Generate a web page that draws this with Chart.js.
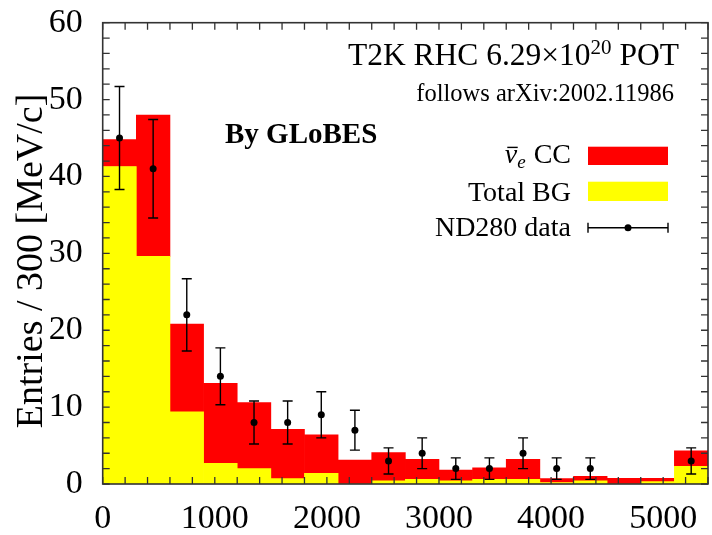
<!DOCTYPE html>
<html>
<head>
<meta charset="utf-8">
<script src="https://cdn.jsdelivr.net/npm/chart.js@4.4.0/dist/chart.umd.min.js"></script>
<style>
  html, body { margin: 0; padding: 0; background: #fff; }
</style>
</head>
<body>
<canvas id="myChart" width="712" height="535"></canvas>
<script>
// reconstructed momentum, 300 MeV/c bins
const binCenters = [150, 450, 750, 1050, 1350, 1650, 1950, 2250, 2550, 2850, 3150, 3450, 3750, 4050, 4350, 4650, 4950, 5250];
const totalBG    = [41.3, 29.6, 9.4, 2.7, 2.0, 0.7, 1.4, 0.0, 0.4, 0.6, 0.4, 0.6, 0.6, 0.2, 0.4, 0.0, 0.3, 2.3];
const nuebarCC   = [3.5, 18.4, 11.4, 10.4, 8.6, 6.4, 5.0, 3.1, 3.7, 2.6, 1.4, 1.5, 2.6, 0.5, 0.6, 0.75, 0.45, 2.0];
const nd280      = [45, 41, 22, 14, 8, 8, 9, 7, 3, 4, 2, 2, 4, 2, 2, null, null, 3];
const nd280Err   = [6.7, 6.4, 4.7, 3.7, 2.8, 2.8, 3.0, 2.6, 1.7, 2.0, 1.4, 1.4, 2.0, 1.4, 1.4, 0, 0, 1.7];

const xTickValues = [0, 1000, 2000, 3000, 4000, 5000];
const yTickValues = [0, 10, 20, 30, 40, 50, 60];
const legendLabels = ['CC', 'Total BG', 'ND280 data'];
const RED = '#ff0000', YELLOW = '#ffff00';
const SERIF = '"Liberation Serif", "Times New Roman", serif';

Chart.defaults.font.family = SERIF;
Chart.defaults.color = '#000';

const toXY = (vals) => binCenters.map((c, i) => ({ x: c, y: vals[i] }));

// frame with inward ticks on all four sides, plus error bars
const framePlugin = {
    id: 'frame',
    afterDatasetsDraw(chart) {
        const { ctx, chartArea: a, scales: { x, y } } = chart;
        ctx.save();

        // error bars on the data points
        ctx.strokeStyle = '#000';
        ctx.lineWidth = 1.4;
        binCenters.forEach((c, i) => {
            if (nd280[i] === null) return;
            const px = x.getPixelForValue(c);
            const top = y.getPixelForValue(nd280[i] + nd280Err[i]);
            const bot = y.getPixelForValue(nd280[i] - nd280Err[i]);
            ctx.beginPath();
            ctx.moveTo(px, top); ctx.lineTo(px, bot);
            ctx.moveTo(px - 5, top); ctx.lineTo(px + 5, top);
            ctx.moveTo(px - 5, bot); ctx.lineTo(px + 5, bot);
            ctx.stroke();
        });

        const tl = 7;
        ctx.strokeStyle = '#333';
        ctx.lineWidth = 1.3;
        ctx.beginPath();
        for (let v = x.min; v <= x.max + 1e-6; v += 200) {
            const px = x.getPixelForValue(v);
            ctx.moveTo(px, a.bottom); ctx.lineTo(px, a.bottom - tl);
            ctx.moveTo(px, a.top); ctx.lineTo(px, a.top + tl);
        }
        for (let v = y.min; v <= y.max + 1e-6; v += 2) {
            const py = y.getPixelForValue(v);
            ctx.moveTo(a.left, py); ctx.lineTo(a.left + tl, py);
            ctx.moveTo(a.right, py); ctx.lineTo(a.right - tl, py);
        }
        ctx.stroke();

        ctx.lineWidth = 1.6;
        ctx.strokeRect(a.left, a.top, a.right - a.left, a.bottom - a.top);
        ctx.restore();
    },
    afterDraw(chart) {
        const { ctx } = chart;
        ctx.save();
        ctx.fillStyle = '#000';
        ctx.textBaseline = 'alphabetic';

        // header line with superscript
        const parts = [
            { t: 'T2K RHC 6.29\u00d710', f: '31.5px ' + SERIF, dy: 0 },
            { t: '20', f: '21px ' + SERIF, dy: -11 },
            { t: ' POT', f: '31.5px ' + SERIF, dy: 0 }
        ];
        let w = 0;
        parts.forEach(p => { ctx.font = p.f; p.w = ctx.measureText(p.t).width; w += p.w; });
        let cx = 679 - w;
        ctx.textAlign = 'left';
        parts.forEach(p => { ctx.font = p.f; ctx.fillText(p.t, cx, 65 + p.dy); cx += p.w; });

        ctx.font = '24.5px ' + SERIF;
        ctx.textAlign = 'right';
        ctx.fillText('follows arXiv:2002.11986', 674, 100.7);

        ctx.font = 'bold 29px ' + SERIF;
        ctx.textAlign = 'left';
        ctx.fillText('By GLoBES', 225, 143);

        // legend
        const textRight = 571, boxL = 588, boxR = 668;
        const rows = [162.7, 200.5, 236];

        // first row: nu-bar_e CC
        ctx.font = 'italic 28px ' + SERIF;
        const wNu = ctx.measureText('\u03bd').width;
        ctx.font = 'italic 19px ' + SERIF;
        const wE = ctx.measureText('e').width;
        ctx.font = '28px ' + SERIF;
        const wCC = ctx.measureText(' ' + legendLabels[0]).width;
        let lx = textRight - (wNu + wE + 1 + wCC);
        ctx.textAlign = 'left';
        ctx.font = 'italic 28px ' + SERIF;
        ctx.fillText('\u03bd', lx, rows[0]);
        ctx.fillRect(lx + 2.5, rows[0] - 16, wNu - 2, 1.4);
        ctx.font = 'italic 19px ' + SERIF;
        ctx.fillText('e', lx + wNu, rows[0] + 5.5);
        ctx.font = '28px ' + SERIF;
        ctx.fillText(' ' + legendLabels[0], lx + wNu + wE + 1, rows[0]);

        ctx.textAlign = 'right';
        ctx.fillText(legendLabels[1], textRight, rows[1]);
        ctx.fillText(legendLabels[2], textRight, rows[2]);

        ctx.fillStyle = RED;
        ctx.fillRect(boxL, 146.7, boxR - boxL, 18.3);
        ctx.fillStyle = YELLOW;
        ctx.fillRect(boxL, 181.7, boxR - boxL, 19.3);

        const ly = 227.7;
        ctx.strokeStyle = '#000';
        ctx.lineWidth = 1.4;
        ctx.beginPath();
        ctx.moveTo(boxL, ly); ctx.lineTo(boxR, ly);
        ctx.moveTo(boxL, ly - 5); ctx.lineTo(boxL, ly + 5);
        ctx.moveTo(boxR, ly - 5); ctx.lineTo(boxR, ly + 5);
        ctx.stroke();
        ctx.fillStyle = '#000';
        ctx.beginPath();
        ctx.arc((boxL + boxR) / 2, ly, 3.5, 0, Math.PI * 2);
        ctx.fill();

        ctx.restore();
    }
};

const myChart = document.getElementById('myChart');

const chart = new Chart(myChart, {
    type: 'bar',
    data: {
        datasets: [{
            label: 'Total BG',
            data: toXY(totalBG),
            backgroundColor: YELLOW,
            borderWidth: 0,
            stack: 'mc',
            barPercentage: 1,
            categoryPercentage: 1,
            order: 2
        }, {
            label: '\u03bd\u0304e CC',
            data: toXY(nuebarCC),
            backgroundColor: RED,
            borderWidth: 0,
            stack: 'mc',
            barPercentage: 1,
            categoryPercentage: 1,
            order: 2
        }, {
            type: 'line',
            label: 'ND280 data',
            data: toXY(nd280),
            showLine: false,
            stack: 'data',
            pointRadius: 3.5,
            pointHoverRadius: 3.5,
            pointBackgroundColor: '#000',
            pointBorderColor: '#000',
            pointBorderWidth: 0,
            order: 1
        }]
    },
    options: {
        responsive: false,
        animation: false,
        devicePixelRatio: 1,
        layout: { padding: { left: 0, top: 22.7, right: 4, bottom: 0 } },
        plugins: {
            legend: { display: false },
            tooltip: { enabled: false }
        },
        scales: {
            x: {
                type: 'linear',
                min: 0,
                max: 5400,
                offset: false,
                grid: { display: false, drawTicks: false },
                border: { display: false },
                ticks: {
                    autoSkip: false,
                    maxRotation: 0,
                    padding: 15,
                    font: { size: 34 },
                    callback: (v) => String(v)
                },
                afterBuildTicks: (scale) => { scale.ticks = xTickValues.map(v => ({ value: v })); },
                afterFit: (scale) => {
                    scale.height = 51;
                    scale.paddingLeft = 0;
                    scale.paddingRight = 0;
                }
            },
            y: {
                stacked: true,
                min: 0,
                max: 60,
                grid: { display: false, drawTicks: false },
                border: { display: false },
                ticks: {
                    padding: 20,
                    font: { size: 34 },
                    callback: (v) => String(v)
                },
                afterBuildTicks: (scale) => { scale.ticks = yTickValues.map(v => ({ value: v })); },
                title: {
                    display: true,
                    // two thin spaces after the text nudge it towards the axis origin
                    text: 'Entries / 300 [MeV/c]\u2009\u2009',
                    font: { size: 38 },
                    padding: { top: 9, bottom: 0 }
                },
                afterFit: (scale) => {
                    scale.width = 102.7;
                    scale.paddingTop = 0;
                    scale.paddingBottom = 0;
                }
            }
        }
    },
    plugins: [framePlugin]
});
</script>
</body>
</html>
